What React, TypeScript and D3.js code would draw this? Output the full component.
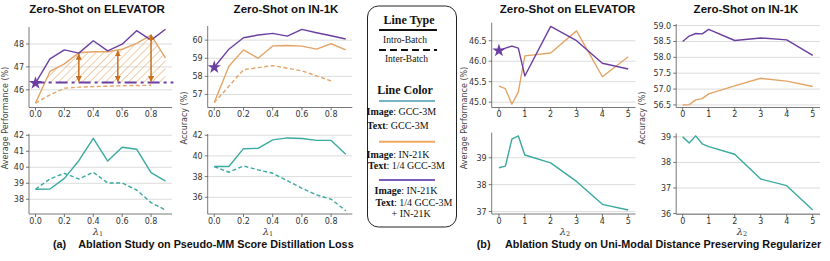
import React from "react";
import * as d3 from "d3";

// ---------- data ----------
const lambda1 = [0, 0.1, 0.2, 0.3, 0.4, 0.5, 0.6, 0.7, 0.8, 0.9];
const lambda1Inter = [0, 0.1, 0.2, 0.3, 0.4, 0.5, 0.6, 0.7, 0.8];
const lambda2 = [0, 0.25, 0.5, 0.75, 1, 2, 3, 4, 5];

// (a) ELEVATOR
const elevPurple1 = [46.29, 47.35, 47.74, 47.6, 48.14, 47.7, 47.99, 48.58, 48.17, 48.64];
const elevOrange1 = [45.42, 46.8, 47.13, 47.62, 47.66, 47.66, 47.77, 48.03, 48.39, 47.38];
const elevOrangeInter1 = [45.42, 45.78, 46.07, 46.12, 46.14, 46.16, 46.18, 46.19, 46.2];
const elevTeal1 = [38.63, 38.64, 39.31, 40.41, 41.81, 40.39, 41.25, 41.13, 39.66, 39.14];
const elevTealInter1 = [38.63, 39.27, 39.62, 39.27, 39.69, 39.02, 39.02, 38.58, 37.79, 37.33];
const elevBaseline = 46.32;
const arrowX = [0.3, 0.57, 0.8];
const arrowTop = [47.55, 47.7, 48.4];

// (a) IN-1K
const inPurple1 = [58.5, 59.5, 60.13, 60.28, 60.37, 60.22, 60.59, 60.41, 60.24, 60.06];
const inOrange1 = [56.55, 58.56, 59.46, 59.0, 59.68, 59.7, 59.67, 59.5, 59.8, 59.46];
const inOrangeInter1 = [56.55, 57.45, 58.37, 58.48, 58.59, 58.45, 58.3, 58.03, 57.75];
const inTeal1 = [38.97, 38.97, 40.7, 40.73, 41.55, 41.74, 41.68, 41.5, 41.5, 40.16];
const inTealInter1 = [38.97, 38.42, 39.03, 38.65, 38.32, 37.6, 36.87, 36.23, 35.81, 34.7];

// (b) ELEVATOR
const elevPurple2 = [46.26, 46.32, 46.37, 46.32, 45.64, 46.85, 46.5, 45.95, 45.81];
const elevOrange2 = [45.39, 45.33, 44.95, 45.25, 46.13, 46.2, 46.74, 45.62, 46.11];
const elevTeal2 = [38.63, 38.69, 39.69, 39.81, 39.1, 38.81, 38.12, 37.27, 37.06];

// (b) IN-1K
const inPurple2 = [58.5, 58.67, 58.75, 58.74, 58.88, 58.53, 58.61, 58.55, 58.06];
const inOrange2 = [56.5, 56.51, 56.66, 56.7, 56.85, 57.1, 57.34, 57.25, 57.08];
const inTeal2 = [39.0, 38.76, 39.04, 38.73, 38.62, 38.32, 37.35, 37.09, 36.14];

// ticks
const xTicks1 = [0, 0.2, 0.4, 0.6, 0.8];
const xTicks2 = [0, 1, 2, 3, 4, 5];
const yTicksA1 = [46, 47, 48];
const yTicksA1b = [38, 39, 40, 41, 42];
const yTicksA2 = [57, 58, 59, 60];
const yTicksA2b = [36, 38, 40, 42];
const yTicksB1 = [45.0, 45.5, 46.0, 46.5];
const yTicksB1b = [37, 38, 39];
const yTicksB2 = [56.5, 57.0, 57.5, 58.0, 58.5, 59.0];
const yTicksB2b = [36, 37, 38, 39];

const PURPLE = "#6b3fa0";
const ORANGE = "#e3a466";
const TEAL = "#3aa99f";
const ARROW = "#c9701c";
const TICKFONT = "DejaVu Sans, sans-serif";

type Sc = d3.ScaleLinear<number, number>;

function Panel(props: {
  px: [number, number];
  py: [number, number];
  xd: [number, number];
  yd: [number, number];
  xt: number[];
  yt: number[];
  xf: (v: number) => string;
  yf: (v: number) => string;
  render: (x: Sc, y: Sc) => React.ReactNode;
}) {
  const { px, py, xd, yd, xt, yt, xf, yf, render } = props;
  const x = d3.scaleLinear().domain(xd).range(px);
  const y = d3.scaleLinear().domain(yd).range([py[1], py[0]]);
  return (
    <g>
      {yt.map((t, i) => (
        <line key={"g" + i} x1={px[0]} x2={px[1]} y1={y(t)} y2={y(t)} stroke="#dcdcdc" strokeWidth={1} />
      ))}
      {render(x, y)}
      <line x1={px[0]} x2={px[0]} y1={py[0]} y2={py[1]} stroke="#555" strokeWidth={0.8} />
      <line x1={px[0]} x2={px[1]} y1={py[1]} y2={py[1]} stroke="#555" strokeWidth={0.8} />
      {yt.map((t, i) => (
        <g key={"y" + i}>
          <line x1={px[0] - 3} x2={px[0]} y1={y(t)} y2={y(t)} stroke="#555" strokeWidth={0.8} />
          <text x={px[0] - 5} y={y(t) + 3} textAnchor="end" fontSize={8} fontFamily={TICKFONT} fill="#333">
            {yf(t)}
          </text>
        </g>
      ))}
      {xt.map((t, i) => (
        <g key={"x" + i}>
          <line x1={x(t)} x2={x(t)} y1={py[1]} y2={py[1] + 3} stroke="#555" strokeWidth={0.8} />
          <text x={x(t)} y={py[1] + 9.8} textAnchor="middle" fontSize={8} fontFamily={TICKFONT} fill="#333">
            {xf(t)}
          </text>
        </g>
      ))}
    </g>
  );
}

function path(x: Sc, y: Sc, xs: number[], ys: number[]) {
  const l = d3
    .line<number>()
    .x((_, i) => x(xs[i]))
    .y((d) => y(d));
  return l(ys) || "";
}

function Line(p: { x: Sc; y: Sc; xs: number[]; ys: number[]; color: string; dash?: string; w?: number }) {
  return (
    <path
      d={path(p.x, p.y, p.xs, p.ys)}
      fill="none"
      stroke={p.color}
      strokeWidth={p.w ?? 1.4}
      strokeDasharray={p.dash}
      strokeLinejoin="round"
    />
  );
}

function Star(p: { cx: number; cy: number; color: string }) {
  const d = d3.symbol().type(d3.symbolStar).size(55)() || "";
  return <path d={d} transform={`translate(${p.cx},${p.cy})`} fill={p.color} />;
}

function YLabel(p: { x: number; y: number; text: string }) {
  return (
    <text
      transform={`translate(${p.x},${p.y}) rotate(-90)`}
      textAnchor="middle"
      fontSize={8}
      fontFamily={TICKFONT}
      fill="#444"
    >
      {p.text}
    </text>
  );
}

function Lam(p: { x: number; y: number; sub: string }) {
  return (
    <text x={p.x} y={p.y} textAnchor="middle" fontFamily="DejaVu Serif, serif" fill="#333">
      <tspan fontSize={10} fontStyle="italic">λ</tspan>
      <tspan fontSize={6.5} dy={1}>{p.sub}</tspan>
    </text>
  );
}

function Title(p: { x: number; text: string }) {
  return (
    <text x={p.x} y={13} textAnchor="middle" fontSize={11.5} fontWeight="bold" fontFamily="Liberation Sans, Arial, sans-serif" fill="#111">
      {p.text}
    </text>
  );
}

// hatched area between orange intra line and baseline
function hatchArea(x: Sc, y: Sc) {
  const pts: [number, number][] = [];
  for (let i = 0; i < lambda1.length; i++) {
    const v = elevOrange1[i];
    if (i > 0) {
      const pv = elevOrange1[i - 1];
      if ((pv - elevBaseline) * (v - elevBaseline) < 0) {
        const t = (elevBaseline - pv) / (v - pv);
        pts.push([lambda1[i - 1] + t * (lambda1[i] - lambda1[i - 1]), elevBaseline]);
      }
    }
    pts.push([lambda1[i], Math.max(v, elevBaseline)]);
  }
  const a = d3
    .area<[number, number]>()
    .x((d) => x(d[0]))
    .y0(y(elevBaseline))
    .y1((d) => y(d[1]));
  return a(pts) || "";
}

export default function App() {
  const fx1 = (v: number) => v.toFixed(1);
  const fx2 = (v: number) => String(v);
  const fi = (v: number) => String(v);
  const f1 = (v: number) => v.toFixed(1);
  const xd1: [number, number] = [-0.045, 0.945];

  return (
    <svg width={830} height={261} style={{ position: "absolute", left: 0, top: 0, background: "#fff" }}>
      <defs>
        <pattern id="hatch" patternUnits="userSpaceOnUse" width={5.5} height={5.5} patternTransform="rotate(45)">
          <line x1={0} y1={0} x2={0} y2={5.5} stroke={ORANGE} strokeWidth={1.1} />
        </pattern>
        <marker id="ah" viewBox="0 0 10 10" refX={9} refY={5} markerWidth={4} markerHeight={4} orient="auto-start-reverse">
          <path d="M0,0 L10,5 L0,10 z" fill={ARROW} />
        </marker>
      </defs>

      {/* ---------- (a) ELEVATOR ---------- */}
      <Title x={97} text="Zero-Shot on ELEVATOR" />
      <Panel
        px={[29, 172]}
        py={[27, 107.5]}
        xd={xd1}
        yd={[45.23, 48.74]}
        xt={xTicks1}
        yt={yTicksA1}
        xf={fx1}
        yf={fi}
        render={(x, y) => (
          <g>
            <path d={hatchArea(x, y)} fill="url(#hatch)" stroke="none" />
            <Line x={x} y={y} xs={lambda1Inter} ys={elevOrangeInter1} color={ORANGE} dash="4,2.5" />
            <Line x={x} y={y} xs={lambda1} ys={elevOrange1} color={ORANGE} />
            <Line x={x} y={y} xs={lambda1} ys={elevPurple1} color={PURPLE} />
            <line
              x1={x(-0.02)}
              x2={x(0.955)}
              y1={y(elevBaseline)}
              y2={y(elevBaseline)}
              stroke={PURPLE}
              strokeWidth={2}
              strokeDasharray="12,4,3,4"
            />
            {arrowX.map((ax, i) => (
              <line
                key={i}
                x1={x(ax)}
                x2={x(ax)}
                y1={y(elevBaseline) - 1}
                y2={y(arrowTop[i])}
                stroke={ARROW}
                strokeWidth={1.5}
                markerStart="url(#ah)"
                markerEnd="url(#ah)"
              />
            ))}
            <Star cx={x(lambda1[0])} cy={y(elevPurple1[0])} color={PURPLE} />
          </g>
        )}
      />
      <Panel
        px={[29, 172]}
        py={[134, 214]}
        xd={xd1}
        yd={[37.08, 42.08]}
        xt={xTicks1}
        yt={yTicksA1b}
        xf={fx1}
        yf={fi}
        render={(x, y) => (
          <g>
            <Line x={x} y={y} xs={lambda1} ys={elevTealInter1} color={TEAL} dash="4,2.5" />
            <Line x={x} y={y} xs={lambda1} ys={elevTeal1} color={TEAL} />
          </g>
        )}
      />
      <YLabel x={8} y={118} text="Average Performance (%)" />
      <Lam x={98} y={235} sub="1" />

      {/* ---------- (a) IN-1K ---------- */}
      <Title x={286} text="Zero-Shot on IN-1K" />
      <Panel
        px={[207.7, 352.3]}
        py={[26, 107.5]}
        xd={xd1}
        yd={[56.28, 60.78]}
        xt={xTicks1}
        yt={yTicksA2}
        xf={fx1}
        yf={fi}
        render={(x, y) => (
          <g>
            <Line x={x} y={y} xs={lambda1Inter} ys={inOrangeInter1} color={ORANGE} dash="4,2.5" />
            <Line x={x} y={y} xs={lambda1} ys={inOrange1} color={ORANGE} />
            <Line x={x} y={y} xs={lambda1} ys={inPurple1} color={PURPLE} />
            <Star cx={x(lambda1[0])} cy={y(inPurple1[0])} color={PURPLE} />
          </g>
        )}
      />
      <Panel
        px={[207.7, 352.3]}
        py={[134, 214]}
        xd={xd1}
        yd={[34.38, 42.12]}
        xt={xTicks1}
        yt={yTicksA2b}
        xf={fx1}
        yf={fi}
        render={(x, y) => (
          <g>
            <Line x={x} y={y} xs={lambda1} ys={inTealInter1} color={TEAL} dash="4,2.5" />
            <Line x={x} y={y} xs={lambda1} ys={inTeal1} color={TEAL} />
          </g>
        )}
      />
      <YLabel x={187} y={118} text="Accuracy (%)" />
      <Lam x={268} y={235} sub="1" />

      {/* ---------- legend ---------- */}
      <g fontFamily="Liberation Serif, Times New Roman, serif" fill="#111">
        <rect x={367.5} y={6} width={89} height={221} rx={11} ry={11} fill="none" stroke="#222" strokeWidth={1} />
        <text x={409} y={24} textAnchor="middle" fontSize={12} fontWeight="bold">Line Type</text>
        <line x1={379} x2={437} y1={30} y2={30} stroke="#111" strokeWidth={2} />
        <text x={405} y={42.5} textAnchor="middle" fontSize={9.5}>Intro-Batch</text>
        <line x1={379} x2={437} y1={50} y2={50} stroke="#111" strokeWidth={2} strokeDasharray="7,4" />
        <text x={406.5} y={61.5} textAnchor="middle" fontSize={9.5}>Inter-Batch</text>
        <text x={405} y={93.5} textAnchor="middle" fontSize={12} fontWeight="bold">Line Color</text>
        <line x1={379} x2={435} y1={101} y2={101} stroke="#74b6c4" strokeWidth={2} />
        <text x={366.5} y={115} fontSize={10}><tspan fontWeight="bold">Image</tspan>: GCC-3M</text>
        <text x={367} y={128.5} fontSize={10}><tspan fontWeight="bold">Text</tspan>: GCC-3M</text>
        <line x1={379} x2={435} y1={141.7} y2={141.7} stroke="#f0a860" strokeWidth={2} />
        <text x={366.5} y={157.5} fontSize={10}><tspan fontWeight="bold">Image</tspan>: IN-21K</text>
        <text x={368} y={168.5} fontSize={10}><tspan fontWeight="bold">Text</tspan>: 1/4 GCC-3M</text>
        <line x1={379} x2={435} y1={180} y2={180} stroke="#7b5cb8" strokeWidth={2} />
        <text x={374.5} y={194} fontSize={10}><tspan fontWeight="bold">Image</tspan>: IN-21K</text>
        <text x={375.5} y={205.5} fontSize={10}><tspan fontWeight="bold">Text</tspan>: 1/4 GCC-3M</text>
        <text x={391.5} y={216.5} fontSize={10}>+ IN-21K</text>
      </g>

      {/* ---------- (b) ELEVATOR ---------- */}
      <Title x={567.5} text="Zero-Shot on ELEVATOR" />
      <Panel
        px={[491.7, 635.5]}
        py={[22.7, 107.5]}
        xd={[-0.28, 5.28]}
        yd={[44.87, 46.94]}
        xt={xTicks2}
        yt={yTicksB1}
        xf={fx2}
        yf={f1}
        render={(x, y) => (
          <g>
            <Line x={x} y={y} xs={lambda2} ys={elevOrange2} color={ORANGE} />
            <Line x={x} y={y} xs={lambda2} ys={elevPurple2} color={PURPLE} />
            <Star cx={x(lambda2[0])} cy={y(elevPurple2[0])} color={PURPLE} />
          </g>
        )}
      />
      <Panel
        px={[491.7, 635.5]}
        py={[132.7, 214]}
        xd={[-0.28, 5.28]}
        yd={[36.91, 39.93]}
        xt={xTicks2}
        yt={yTicksB1b}
        xf={fx2}
        yf={fi}
        render={(x, y) => <Line x={x} y={y} xs={lambda2} ys={elevTeal2} color={TEAL} />}
      />
      <YLabel x={467} y={118} text="Average Performance (%)" />
      <Lam x={565} y={235} sub="2" />

      {/* ---------- (b) IN-1K ---------- */}
      <Title x={746} text="Zero-Shot on IN-1K" />
      <Panel
        px={[676.2, 820]}
        py={[24, 107.5]}
        xd={[-0.25, 5.28]}
        yd={[56.42, 59.05]}
        xt={xTicks2}
        yt={yTicksB2}
        xf={fx2}
        yf={f1}
        render={(x, y) => (
          <g>
            <Line x={x} y={y} xs={lambda2} ys={inOrange2} color={ORANGE} />
            <Line x={x} y={y} xs={lambda2} ys={inPurple2} color={PURPLE} />
          </g>
        )}
      />
      <Panel
        px={[676.2, 820]}
        py={[133.3, 214.3]}
        xd={[-0.25, 5.28]}
        yd={[35.97, 39.14]}
        xt={xTicks2}
        yt={yTicksB2b}
        xf={fx2}
        yf={fi}
        render={(x, y) => <Line x={x} y={y} xs={lambda2} ys={inTeal2} color={TEAL} />}
      />
      <YLabel x={645} y={118} text="Accuracy (%)" />
      <Lam x={742} y={235} sub="2" />

      {/* ---------- captions ---------- */}
      <g fontFamily="Liberation Sans, Arial, sans-serif" fontWeight="bold" fontSize={10.8} fill="#111">
        <text x={53} y={247.5}>(a)</text>
        <text x={78.3} y={247.5}>Ablation Study on Pseudo-MM Score Distillation Loss</text>
        <text x={476.7} y={247.5}>(b)</text>
        <text x={505} y={247.5}>Ablation Study on Uni-Modal Distance Preserving Regularizer</text>
      </g>
    </svg>
  );
}
